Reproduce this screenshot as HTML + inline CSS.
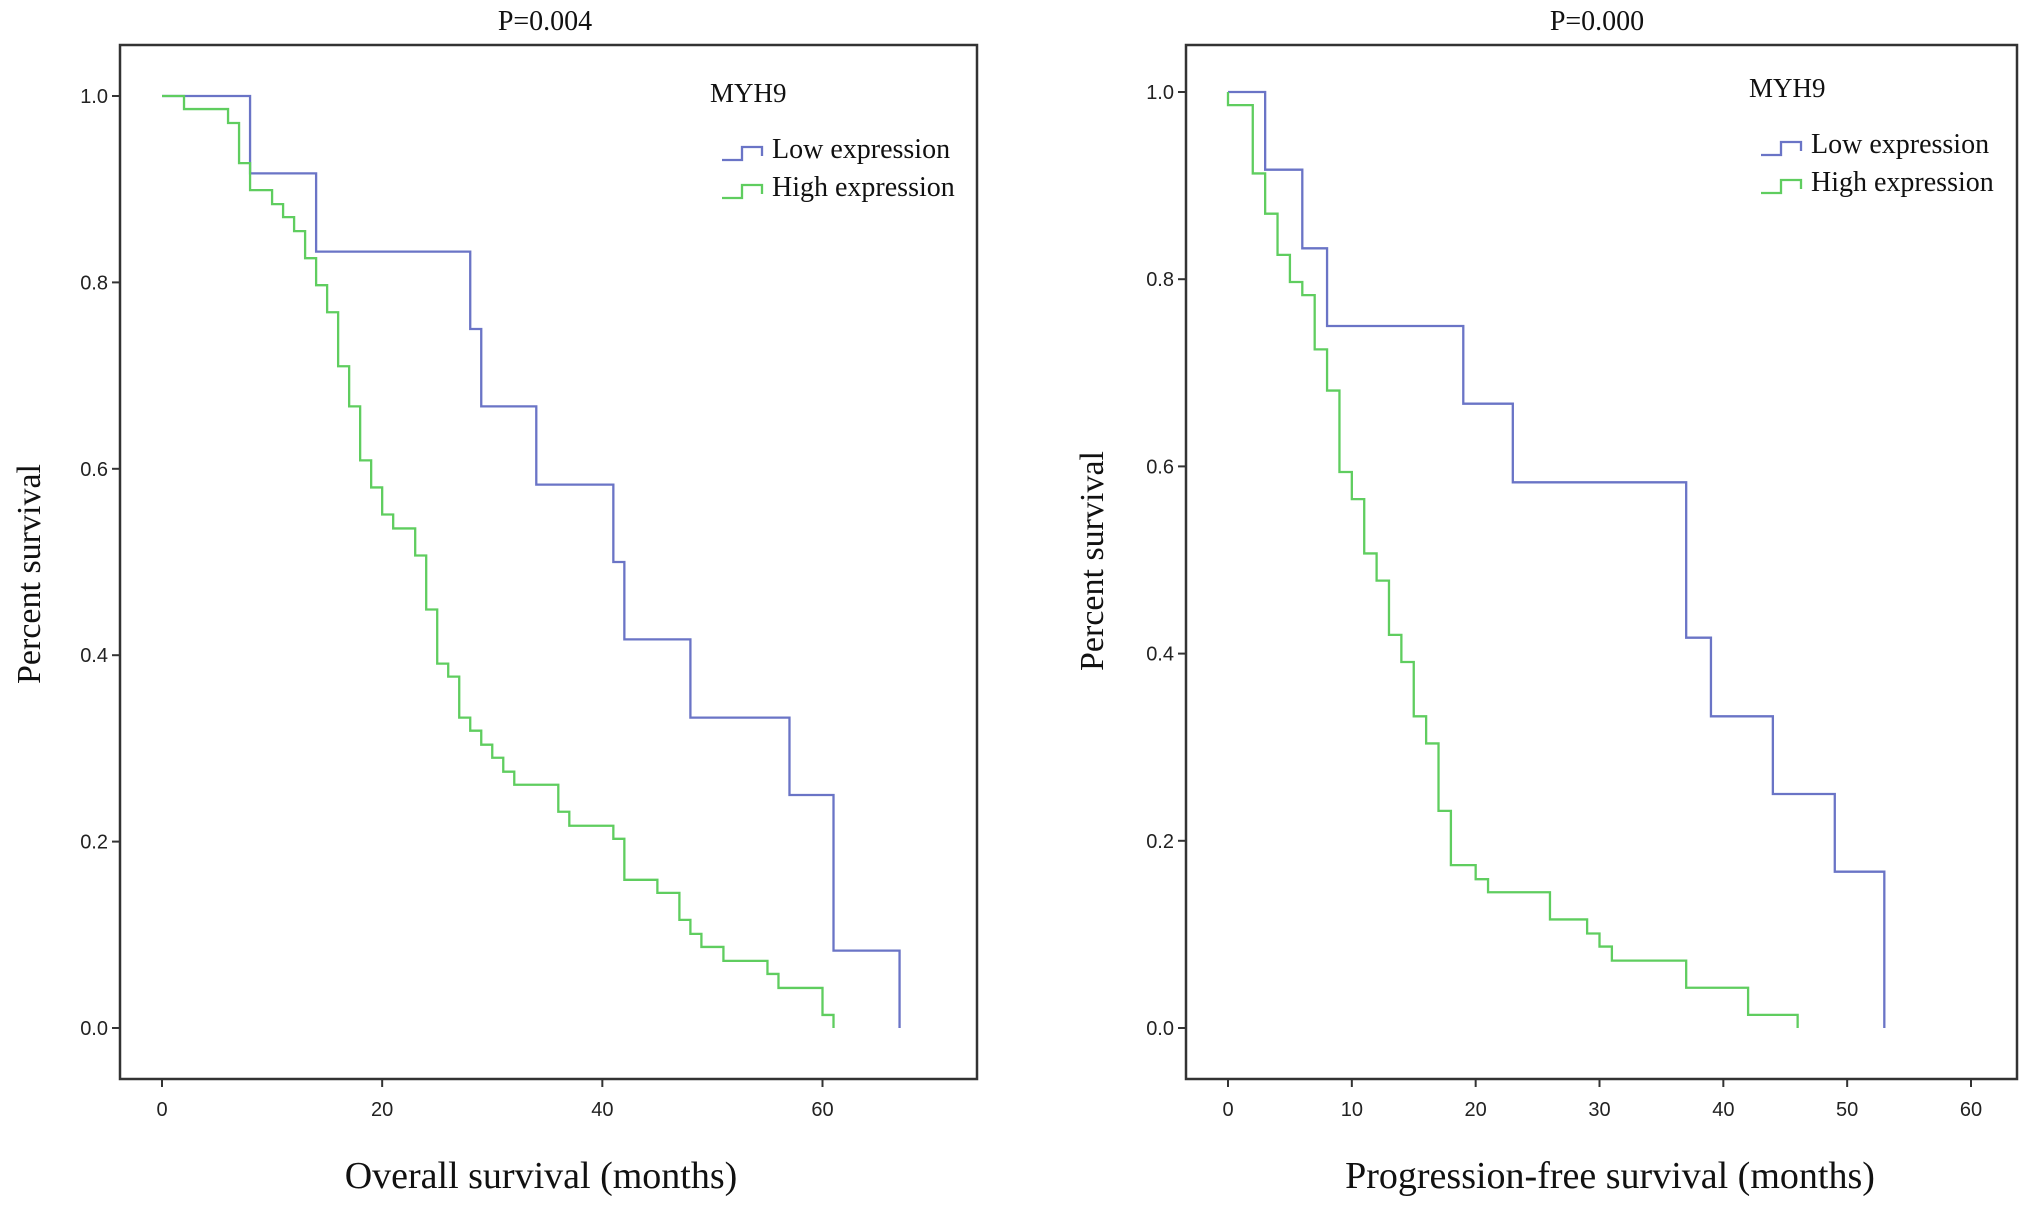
<!DOCTYPE html>
<html><head><meta charset="utf-8"><style>
html,body{margin:0;padding:0;background:#fff;}
svg{display:block;}
.tk{font-family:"Liberation Sans",Arial,sans-serif;font-size:20px;fill:#222;}
.sr{font-family:"Liberation Serif","Times New Roman",serif;fill:#111;}
</style></head><body>
<svg id="chart" width="2031" height="1207" viewBox="0 0 2031 1207" xmlns="http://www.w3.org/2000/svg"></svg>
<script>
// Overall survival
const osLowTimes=[0,8,14,28,29,34,41,42,48,57,61,67];
const osLowSurv=[1,0.917,0.833,0.75,0.667,0.583,0.5,0.417,0.333,0.25,0.083,0];
const osHighTimes=[0,2,6,7,8,10,11,12,13,14,15,16,17,18,19,20,21,23,24,25,26,27,28,29,30,31,32,36,37,41,42,45,47,48,49,51,55,56,60,61];
const osHighSurv=[1,0.986,0.971,0.928,0.899,0.884,0.870,0.855,0.826,0.797,0.768,0.710,0.667,0.609,0.580,0.551,0.536,0.507,0.449,0.391,0.377,0.333,0.319,0.304,0.290,0.275,0.261,0.232,0.217,0.203,0.159,0.145,0.116,0.101,0.087,0.072,0.058,0.043,0.014,0.0];
// Progression-free survival
const pfsLowTimes=[0,3,6,8,19,23,37,39,44,49,53];
const pfsLowSurv=[1,0.917,0.833,0.75,0.667,0.583,0.417,0.333,0.25,0.167,0];
const pfsHighTimes=[0,2,3,4,5,6,7,8,9,10,11,12,13,14,15,16,17,18,20,21,26,29,30,31,37,42,46];
const pfsHighSurv=[0.986,0.913,0.870,0.826,0.797,0.783,0.725,0.681,0.594,0.565,0.507,0.478,0.420,0.391,0.333,0.304,0.232,0.174,0.159,0.145,0.116,0.101,0.087,0.072,0.043,0.014,0.0];
const xTicks=[0,20,40,60];
const xTicksPfs=[0,10,20,30,40,50,60];
const yTicks=[0,0.2,0.4,0.6,0.8,1.0];

const NS="http://www.w3.org/2000/svg";
const svg=document.getElementById('chart');
function mk(tag,attrs,parent){const e=document.createElementNS(NS,tag);for(const k in attrs)e.setAttribute(k,attrs[k]);(parent||svg).appendChild(e);return e;}
const BLUE="#6a74c6", GREEN="#5fcd5f";

function panel(cfg){
  const g=mk('g',{});
  
  
  const xs=v=>cfg.x0+(v-cfg.xmin)*(cfg.x1-cfg.x0)/(cfg.xmax-cfg.xmin);
  const ys=v=>cfg.y0+(1-v)*(cfg.y1-cfg.y0);
  const box=mk('rect',{x:cfg.bl,y:cfg.bt,width:cfg.br-cfg.bl,height:cfg.bb-cfg.bt,fill:'none',stroke:'#333','stroke-width':2.5},g);
  
  
  cfg.xt.forEach(t=>{
    mk('line',{x1:xs(t),x2:xs(t),y1:cfg.bb,y2:cfg.bb+8,stroke:'#333','stroke-width':2},g);
    const tx=mk('text',{x:xs(t),y:cfg.bb+37,'text-anchor':'middle',class:'tk'},g);
    tx.textContent=t;
    
    
  });
  yTicks.forEach(t=>{
    mk('line',{x1:cfg.bl-8,x2:cfg.bl,y1:ys(t),y2:ys(t),stroke:'#333','stroke-width':2},g);
    const tx=mk('text',{x:cfg.bl-12,y:ys(t)+7,'text-anchor':'end',class:'tk'},g);
    tx.textContent=t.toFixed(1);
    
    
  });
  function curve(times,surv,color,name){
    let d='M'+xs(times[0])+','+ys(times[0]===0&&surv[0]<1?1:surv[0]);
    if(surv[0]<1) d+=' V'+ys(surv[0]);
    for(let i=1;i<times.length;i++){d+=' H'+xs(times[i])+' V'+ys(surv[i]);}
    const p=mk('path',{d:d,fill:'none',stroke:color,'stroke-width':2.3},g);
    
    
  }
  curve(cfg.lowT,cfg.lowS,BLUE,'low-expression-curve');
  curve(cfg.highT,cfg.highS,GREEN,'high-expression-curve');
  const t1=mk('text',{x:cfg.titleX,y:30,'text-anchor':'middle',class:'sr','font-size':28},g);
  t1.textContent=cfg.p;
  
  
  const xt=mk('text',{x:cfg.xTitleX,y:1188,'text-anchor':'middle',class:'sr','font-size':38},g);
  xt.textContent=cfg.xTitle;
  
  
  const yt=mk('text',{x:0,y:0,'text-anchor':'middle',class:'sr','font-size':34,transform:'translate('+(cfg.yTitleX+12)+','+cfg.yTitleY+') rotate(-90)'},g);
  yt.textContent='Percent survival';
  
  
  const lg=mk('g',{},g);
  
  
  const lt=mk('text',{x:cfg.lx-62,y:cfg.ly,class:'sr','font-size':27},lg);
  lt.textContent='MYH9';
  
  
  [['Low expression',BLUE,cfg.ly+56],['High expression',GREEN,cfg.ly+94]].forEach(([lab,col,yy])=>{
    const sx=cfg.lx-50;
    const sym=mk('path',{d:'M'+(sx)+','+(yy+2)+' H'+(sx+20)+' V'+(yy-11)+' H'+(sx+40)+' V'+(yy-2),fill:'none',stroke:col,'stroke-width':2.3},lg);
    
    
    const tx=mk('text',{x:cfg.lx,y:yy,class:'sr','font-size':28},lg);
    tx.textContent=lab;
    
    
  });
}
panel({name:'overall-survival-panel',bl:120,br:977,bt:45,bb:1079,x0:162,x1:822.5,xmin:0,xmax:60,y0:96,y1:1028,
  xt:xTicks,lowT:osLowTimes,lowS:osLowSurv,highT:osHighTimes,highS:osHighSurv,p:'P=0.004',titleX:545,
  xTitle:'Overall survival (months)',xTitleX:541,yTitleX:28,yTitleY:574,lx:772,ly:102});
panel({name:'progression-free-survival-panel',bl:1186,br:2017,bt:45,bb:1079,x0:1228,x1:1971,xmin:0,xmax:60,y0:92,y1:1028,
  xt:xTicksPfs,lowT:pfsLowTimes,lowS:pfsLowSurv,highT:pfsHighTimes,highS:pfsHighSurv,p:'P=0.000',titleX:1597,
  xTitle:'Progression-free survival (months)',xTitleX:1610,yTitleX:1091,yTitleY:561,lx:1811,ly:97});
</script>
</body></html>
